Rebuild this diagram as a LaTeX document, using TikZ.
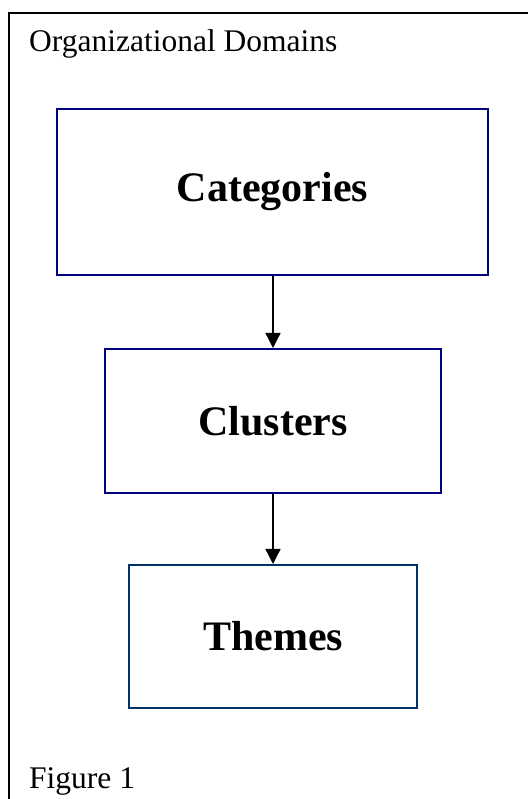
\documentclass[tikz,border=0pt]{standalone}
\usepackage{fontspec}
\setmainfont{Liberation Serif}
\usetikzlibrary{arrows.meta}
\definecolor{boxnavy}{RGB}{0,0,128}
\definecolor{boxteal}{RGB}{0,51,102}
\tikzset{
  levelbox/.style={draw, line width=2pt, inner sep=0pt, align=center,
    font=\fontsize{42}{48}\selectfont\bfseries},
  plainlabel/.style={inner sep=0pt, anchor=base west,
    font=\fontsize{31.5}{36}\selectfont},
  flowarrow/.style={line width=1.3pt, -{Triangle[width=15pt,length=15pt]}},
}
\begin{document}
\begin{tikzpicture}[x=1pt,y=1pt]
\useasboundingbox (0,0) rectangle (527,799);
\fill[white] (0,0) rectangle (527,799);
\draw[line width=2pt] (9,-2) -- (9,786) -- (529,786);
\node[plainlabel] (title) at (29,747) {Organizational Domains};
\node[plainlabel] (fig) at (29,10) {Figure 1};
\node[levelbox, draw=boxnavy, minimum width=431pt, minimum height=166pt] (cat) at (272.5,607) {Categories};
\node[levelbox, draw=boxnavy, minimum width=336pt, minimum height=144pt] (clu) at (273,378) {Clusters};
\node[levelbox, draw=boxteal, minimum width=288pt, minimum height=143pt] (the) at (273,162.5) {Themes};
\draw[flowarrow] (cat.south -| clu.north) -- (clu.north);
\draw[flowarrow] (clu.south) -- (the.north);
\end{tikzpicture}
\end{document}
